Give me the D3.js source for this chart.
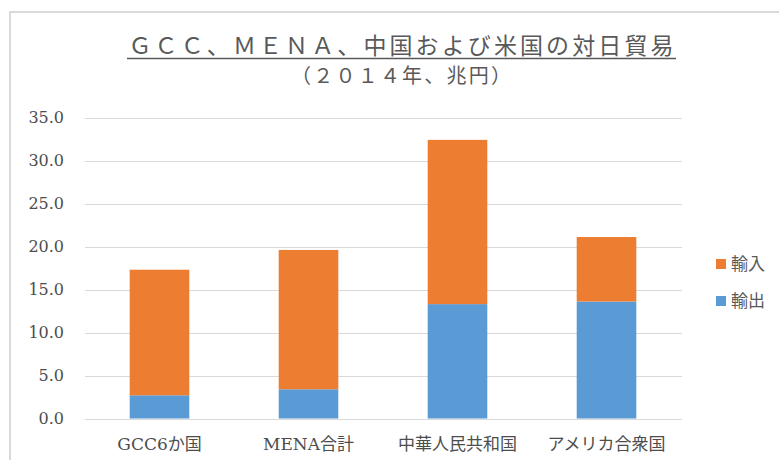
<!DOCTYPE html>
<html lang="ja">
<head>
<meta charset="UTF-8">
<script src="https://d3js.org/d3.v7.min.js"></script>
<style>
  body { margin: 0; background: #fff; }
</style>
</head>
<body>
<div id="chart"></div>
<script>
// data (2014, trillion yen)
const categories = ["GCC6か国", "MENA合計", "中華人民共和国", "アメリカ合衆国"];
const exportVals = [2.7, 3.4, 13.3, 13.6];   // 輸出
const importVals = [14.6, 16.2, 19.1, 7.5];  // 輸入
const yTicks = [0, 5, 10, 15, 20, 25, 30, 35];
const seriesNames = ["輸入", "輸出"];

const width = 779, height = 460;
const latinFont = "'DejaVu Serif', 'Noto Sans CJK JP', serif";
const cjkFont = "'Noto Sans CJK JP', sans-serif";
const textColor = "#595959";

const svg = d3.select("#chart").append("svg")
  .attr("width", width).attr("height", height);

// chart frame (runs off the right and bottom edge)
svg.append("rect")
  .attr("x", 10).attr("y", 12)
  .attr("width", 900).attr("height", 600)
  .attr("fill", "white")
  .attr("stroke", "#d9d9d9").attr("stroke-width", 2);

// title
svg.append("text")
  .attr("x", 401).attr("y", 54)
  .attr("text-anchor", "middle")
  .attr("font-family", cjkFont).attr("font-size", "23px")
  .attr("fill", textColor)
  .attr("textLength", 545).attr("lengthAdjust", "spacing")
  .text("ＧＣＣ、ＭＥＮＡ、中国および米国の対日貿易");
svg.append("line")
  .attr("x1", 127).attr("x2", 676).attr("y1", 58.5).attr("y2", 58.5)
  .attr("stroke", textColor).attr("stroke-width", 1.3);
svg.append("text")
  .attr("x", 401).attr("y", 83)
  .attr("text-anchor", "middle")
  .attr("font-family", cjkFont).attr("font-size", "20px")
  .attr("fill", textColor)
  .attr("textLength", 220).attr("lengthAdjust", "spacing")
  .text("（２０１４年、兆円）");

// scales
const x = d3.scaleBand().domain(categories).range([85, 681]).paddingInner(0.6).paddingOuter(0.3);
const y = d3.scaleLinear().domain([0, 35]).range([418.5, 117.5]);

// gridlines
svg.append("g").selectAll("line")
  .data(yTicks)
  .join("line")
  .attr("x1", 85).attr("x2", 682)
  .attr("y1", d => Math.round(y(d)) + 0.5).attr("y2", d => Math.round(y(d)) + 0.5)
  .attr("stroke", "#d9d9d9").attr("stroke-width", 1.2);

// y axis labels
const yAxis = svg.append("g")
  .attr("transform", "translate(64,0)")
  .call(d3.axisLeft(y).tickValues(yTicks).tickFormat(d3.format(".1f")).tickSize(0).tickPadding(0));
yAxis.select(".domain").remove();
yAxis.selectAll("text")
  .attr("font-family", latinFont).attr("font-size", "16px")
  .attr("fill", "#4d4d4d");

// stacked bars
const stackData = categories.map((c, i) => ({ cat: c, "輸出": exportVals[i], "輸入": importVals[i] }));
const stacked = d3.stack().keys(["輸出", "輸入"])(stackData);
const color = d3.scaleOrdinal().domain(["輸出", "輸入"]).range(["#5b9bd5", "#ed7d31"]);

svg.append("g").selectAll("g")
  .data(stacked)
  .join("g")
  .attr("fill", d => color(d.key))
  .selectAll("rect")
  .data(d => d)
  .join("rect")
  .attr("x", d => x(d.data.cat))
  .attr("width", x.bandwidth())
  .attr("y", d => y(d[1]))
  .attr("height", d => y(d[0]) - y(d[1]));

// x axis labels
const xAxis = svg.append("g")
  .attr("transform", "translate(0,418.5)")
  .call(d3.axisBottom(x).tickSize(0).tickPadding(0));
xAxis.select(".domain").remove();
xAxis.selectAll("text")
  .attr("dy", "31px")
  .attr("font-family", latinFont).attr("font-size", "17px")
  .attr("fill", "#4d4d4d");

// legend
const legend = svg.append("g").selectAll("g")
  .data(seriesNames)
  .join("g")
  .attr("transform", (d, i) => "translate(716," + (259 + i * 37) + ")");
legend.append("rect")
  .attr("width", 10).attr("height", 10)
  .attr("fill", d => color(d));
legend.append("text")
  .attr("x", 15).attr("y", 5).attr("dy", "0.36em")
  .attr("font-family", cjkFont).attr("font-size", "17px")
  .attr("fill", textColor)
  .text(d => d);
</script>
</body>
</html>
